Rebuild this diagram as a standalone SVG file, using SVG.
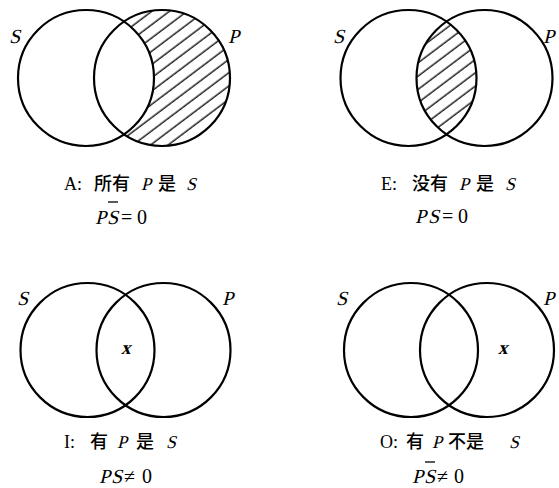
<svg xmlns="http://www.w3.org/2000/svg" width="559" height="488" viewBox="0 0 559 488">
<style>
.c{fill:none;stroke:#000;stroke-width:2.2}
.w{fill:#fff;stroke:none}
text{font-family:"Liberation Serif","Times New Roman","DejaVu Serif",serif;fill:#000}
.v{font-size:20px}
.l{font-size:18px}
.i{font-size:18px}
.k{font-family:"Noto Sans CJK SC","Noto Sans CJK JP",sans-serif;font-size:18px;font-weight:500}
.f{font-size:20px}
.n{font-size:20px}
.x{font-size:19px;font-weight:bold}
.ob{stroke:#000;stroke-width:1.3}
</style>
<defs>
<pattern id="hatch" patternUnits="userSpaceOnUse" width="10.6" height="10.6" patternTransform="rotate(-37)">
<rect width="10.6" height="10.6" fill="#fff"/>
<line x1="0" y1="5" x2="10.6" y2="5" stroke="#000" stroke-width="1.3"/>
</pattern>
<clipPath id="clipE"><circle cx="408.5" cy="78" r="68"/></clipPath>
</defs>
<rect width="559" height="488" fill="#fff"/>

<g id="panelA">
<circle cx="162" cy="78" r="68" fill="url(#hatch)"/>
<circle cx="86" cy="78" r="68" class="w"/>
<circle cx="86" cy="78" r="68" class="c"/>
<circle cx="162" cy="78" r="68" class="c"/>
<text class="v" transform="translate(9,43) skewX(-14)">S</text>
<text class="v" transform="translate(228,43) skewX(-14)">P</text>
<text class="l" x="64" y="190">A:</text>
<text class="k" x="94" y="190">所有</text>
<text class="i" transform="translate(141,190) skewX(-14)">P</text>
<text class="k" x="158" y="190">是</text>
<text class="i" transform="translate(186,190) skewX(-14)">S</text>
<text class="f" transform="translate(95,224) skewX(-14)">P</text>
<text class="f" transform="translate(107,224) skewX(-14)">S</text>
<line class="ob" x1="108" y1="202" x2="118" y2="202"/>
<text class="n" x="121" y="224">=</text>
<text class="n" x="137" y="224">0</text>
</g>

<g id="panelE">
<circle cx="484.5" cy="78" r="68" fill="url(#hatch)" clip-path="url(#clipE)"/>
<circle cx="408.5" cy="78" r="68" class="c"/>
<circle cx="484.5" cy="78" r="68" class="c"/>
<text class="v" transform="translate(333,43) skewX(-14)">S</text>
<text class="v" transform="translate(543,43) skewX(-14)">P</text>
<text class="l" x="381" y="190">E:</text>
<text class="k" x="412" y="190">没有</text>
<text class="i" transform="translate(459,190) skewX(-14)">P</text>
<text class="k" x="476" y="190">是</text>
<text class="i" transform="translate(505,190) skewX(-14)">S</text>
<text class="f" transform="translate(415,223) skewX(-14)">P</text>
<text class="f" transform="translate(428,223) skewX(-14)">S</text>
<text class="n" x="442" y="223">=</text>
<text class="n" x="458" y="223">0</text>
</g>

<g id="panelI">
<circle cx="87.5" cy="350" r="67" class="c"/>
<circle cx="163.5" cy="350" r="67" class="c"/>
<text class="v" transform="translate(17,305) skewX(-14)">S</text>
<text class="v" transform="translate(222,305) skewX(-14)">P</text>
<text class="x" transform="translate(121,354) skewX(-14)">x</text>
<text class="l" x="64" y="448">I:</text>
<text class="k" x="90" y="448">有</text>
<text class="i" transform="translate(117,448) skewX(-14)">P</text>
<text class="k" x="136" y="448">是</text>
<text class="i" transform="translate(166,448) skewX(-14)">S</text>
<text class="f" transform="translate(99,483) skewX(-14)">P</text>
<text class="f" transform="translate(111,483) skewX(-14)">S</text>
<text class="n" x="124" y="483">≠</text>
<text class="n" x="142" y="483">0</text>
</g>

<g id="panelO">
<circle cx="411" cy="350" r="67" class="c"/>
<circle cx="487" cy="350" r="67" class="c"/>
<text class="v" transform="translate(336,305) skewX(-14)">S</text>
<text class="v" transform="translate(543,305) skewX(-14)">P</text>
<text class="x" transform="translate(498,354) skewX(-14)">x</text>
<text class="l" x="380" y="448">O:</text>
<text class="k" x="406" y="448">有</text>
<text class="i" transform="translate(432,448) skewX(-14)">P</text>
<text class="k" x="448" y="448">不是</text>
<text class="i" transform="translate(509,448) skewX(-14)">S</text>
<text class="f" transform="translate(412,483) skewX(-14)">P</text>
<text class="f" transform="translate(424,483) skewX(-14)">S</text>
<line class="ob" x1="425" y1="462" x2="435" y2="462"/>
<text class="n" x="437" y="483">≠</text>
<text class="n" x="454" y="483">0</text>
</g>

<g id="connectors"></g>
</svg>
